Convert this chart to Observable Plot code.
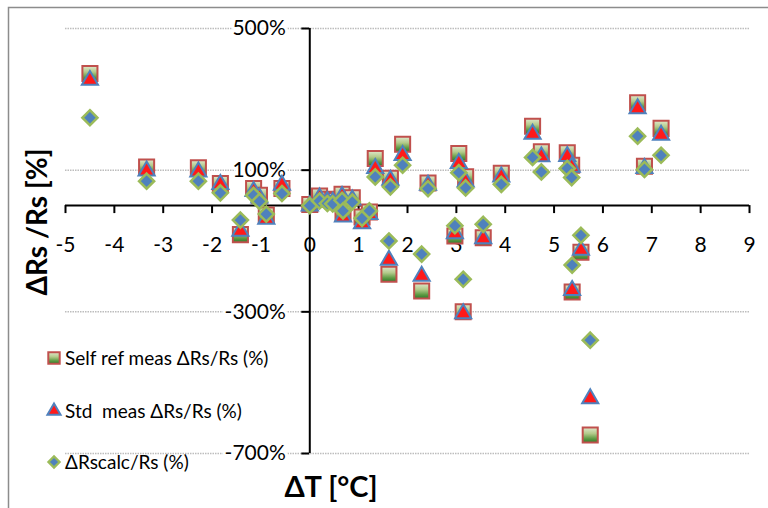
<!DOCTYPE html>
<html><head><meta charset="utf-8">
<script src="https://cdn.jsdelivr.net/npm/d3@7"></script>
<script src="https://cdn.jsdelivr.net/npm/@observablehq/plot@0.6"></script>
<style>html,body{margin:0;padding:0;background:#fff;overflow:hidden}</style>
</head><body><div id="chart"></div>
<script>
// ΔT [°C]
const dT = [-4.50, -3.34, -2.28, -1.83, -1.42, -1.15, -1.03, -0.89, -0.57, 0.00,
            0.20, 0.36, 0.47, 0.66, 0.68, 0.87, 1.07, 1.22, 1.34, 1.62,
            1.65, 1.90, 2.29, 2.42, 2.97, 3.05, 3.14, 3.19, 3.55, 3.92,
            4.56, 4.74, 5.27, 5.36, 5.37, 5.55, 5.74, 6.71, 6.85, 7.19];
// Self ref meas ΔRs/Rs (%)
const selfRef = [373, 109, 107, 62, -82, 48, 29, -27, 48, 3,
                 27, 18, 14, 32, -22, 22, -32, -18, 133, -194,
                 77, 173, -241, 64, -86, 147, -300, 81, -91, 91,
                 224, 152, 149, 114, -244, -132, -648, 290, 111, 218];
// Std meas ΔRs/Rs (%)
const stdMeas = [354, 98, 95, 60, -72, 40, 22, -38, 58, -1,
                 22, 12, 10, 26, -32, 16, -51, -25, 105, -154,
                 72, 142, -199, 58, -79, 119, -305, 67, -93, 81,
                 202, 138, 139, 109, -239, -126, -545, 274, 105, 199];
// ΔRscalc/Rs (%)
const calc = [248, 69, 69, 36, -41, 29, 12, -24, 34, 0,
              13, 6, 5, 15, -15, 10, -36, -15, 81, -100,
              53, 114, -137, 48, -57, 93, -208, 50, -53, 60,
              136, 95, 105, 79, -168, -84, -380, 196, 102, 142];

const xTicks = [-5, -4, -3, -2, -1, 0, 1, 2, 3, 4, 5, 6, 7, 8, 9];
const yTicks = [500, 100, -300, -700];
const seriesNames = ["Self ref meas ΔRs/Rs (%)", "Std  meas ΔRs/Rs (%)", "ΔRscalc/Rs (%)"];
const xTitle = "ΔT [°C]";
const yTitle = "ΔRs /Rs [%]";

const rows = dT.map((x, i) => ({x, s: selfRef[i], t: stdMeas[i], c: calc[i]}));

const FONT = "Lato";
const plot = Plot.plot({
  width: 768, height: 508,
  marginLeft: 65, marginRight: 19, marginTop: 28, marginBottom: 55,
  x: {domain: [-5, 9], axis: null},
  y: {domain: [-700, 500], axis: null},
  style: {fontFamily: FONT, background: "white", color: "black"},
  marks: [
    Plot.frame({stroke: "#8c8c8c", strokeWidth: 1.5, insetLeft: -57, insetTop: -21, insetRight: -30, insetBottom: -70}),
    Plot.ruleY(yTicks, {y: d => d, x1: -5, x2: 9, stroke: "#bdbdbd", strokeWidth: 1.5, strokeDasharray: "1.5,1"}),
    Plot.text(yTicks, {x: 0, y: d => d, text: d => d + "%", textAnchor: "end", dx: -24, fontSize: 21, fill: "black", stroke: "white", strokeWidth: 6}),
    Plot.text(xTicks, {x: d => d, y: 0, text: d => String(d), dy: 40, fontSize: 21, fill: "black"}),
    Plot.ruleX([0], {y1: -700, y2: 500, stroke: "black", strokeWidth: 2}),
    Plot.ruleY([0], {x1: -5, x2: 9, stroke: "black", strokeWidth: 2}),
    Plot.ruleX(xTicks, {x: d => d, y1: 0, y2: 0, insetBottom: -8, stroke: "black", strokeWidth: 2}),
    Plot.ruleY(yTicks, {y: d => d, x1: 0, x2: 0, insetLeft: -8, stroke: "black", strokeWidth: 2}),
    Plot.dot(rows, {x: "x", y: "s", symbol: "square", r: 8.5, fill: "url(#sqgrad)", stroke: "#c0504d", strokeWidth: 2}),
    Plot.dot(rows, {x: "x", y: "t", symbol: "triangle", r: 6, fill: "#ff1a1a", stroke: "#4f81bd", strokeWidth: 2}),
    Plot.dot(rows, {x: "x", y: "c", symbol: "diamond2", r: 6.8, fill: "#4f81bd", stroke: "#9bbb59", strokeWidth: 2.5})
  ]
});
document.getElementById("chart").appendChild(plot);

const svg = d3.select(plot);
const defs = svg.insert("defs", ":first-child");
const grad = defs.append("linearGradient").attr("id", "sqgrad")
  .attr("x1", 0).attr("y1", 0).attr("x2", 0).attr("y2", 1);
grad.append("stop").attr("offset", "0%").attr("stop-color", "#dfe8cc");
grad.append("stop").attr("offset", "40%").attr("stop-color", "#b3ca8a");
grad.append("stop").attr("offset", "75%").attr("stop-color", "#5c9a42");
grad.append("stop").attr("offset", "100%").attr("stop-color", "#2b7a2a");

// Legend
const legY = [358, 411, 462];
const leg = svg.append("g").attr("font-family", FONT).attr("font-size", 19).attr("text-anchor", "start");
const symDefs = [
  {sym: d3.symbolSquare, size: 130, fill: "url(#sqgrad)", stroke: "#c0504d", sw: 2},
  {sym: d3.symbolTriangle, size: 75, fill: "#ff1a1a", stroke: "#4f81bd", sw: 2},
  {sym: d3.symbolDiamond2, size: 80, fill: "#4f81bd", stroke: "#9bbb59", sw: 2.2}
];
seriesNames.forEach((name, i) => {
  const s = symDefs[i];
  leg.append("path").attr("d", d3.symbol(s.sym, s.size)())
    .attr("transform", `translate(54,${legY[i]})`)
    .attr("fill", s.fill).attr("stroke", s.stroke).attr("stroke-width", s.sw);
  leg.append("text").attr("x", 65).attr("y", legY[i]).attr("dy", "0.35em")
    .attr("text-anchor", "start")
    .style("white-space", "pre").attr("fill", "black").text(name);
});

// Axis titles
svg.append("text").attr("transform", "translate(37,222) rotate(-90)")
  .attr("text-anchor", "middle").attr("dy", "0.35em")
  .attr("font-family", FONT).attr("font-weight", "bold").attr("font-size", 28)
  .attr("fill", "black").text(yTitle);
svg.append("text").attr("x", 331).attr("y", 487)
  .attr("text-anchor", "middle").attr("dy", "0.35em")
  .attr("font-family", FONT).attr("font-weight", "bold").attr("font-size", 29)
  .attr("fill", "black").text(xTitle);
</script>
</body></html>
